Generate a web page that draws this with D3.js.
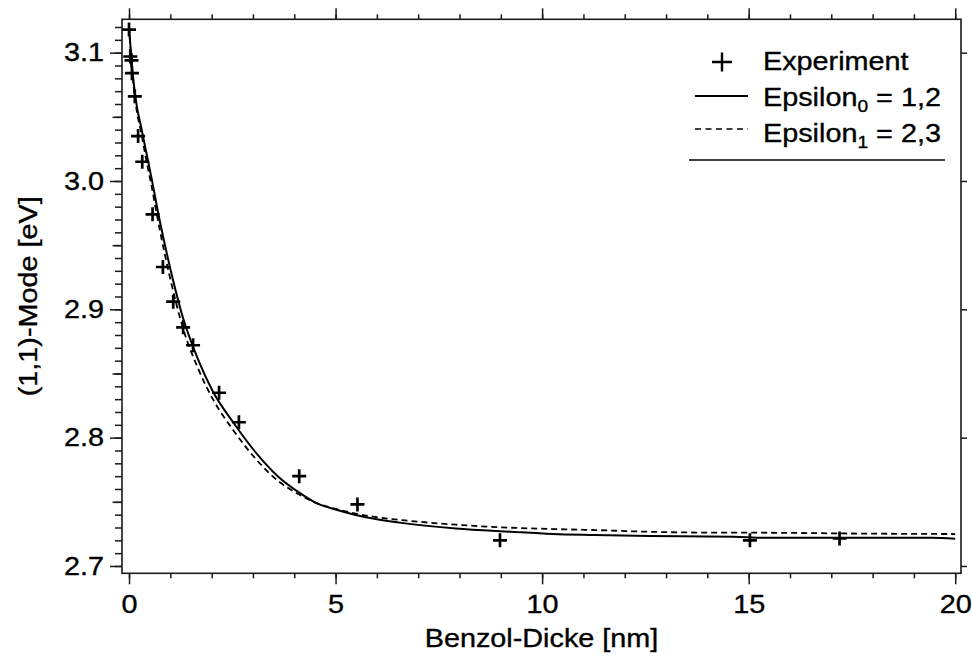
<!DOCTYPE html>
<html>
<head>
<meta charset="utf-8">
<script src="https://cdn.jsdelivr.net/npm/d3@7"></script>
<style>
  html, body { margin: 0; padding: 0; background: #fff; }
  svg { display: block; }
  text { font-family: "Liberation Sans", Arial, sans-serif; fill: #000; stroke: #000; stroke-width: 0.35px; }
  .wide { transform-box: fill-box; transform-origin: center; transform: scaleX(1.13); }
  .wide-end { transform-box: fill-box; transform-origin: right center; transform: scaleX(1.13); }
  .wide-start { transform-box: fill-box; transform-origin: left center; transform: scaleX(1.13); }
</style>
</head>
<body>
<svg id="chart" width="972" height="658"></svg>
<script>
// Measured (1,1)-mode energy versus benzene layer thickness
const expThickness = [0.00, 0.03, 0.06, 0.07, 0.14, 0.22, 0.32, 0.57, 0.82, 1.07, 1.31, 1.55, 2.18, 2.66, 4.12, 5.53, 8.98, 15.03, 17.20];
const expEnergy    = [3.118, 3.097, 3.094, 3.084, 3.066, 3.035, 3.015, 2.974, 2.933, 2.906, 2.886, 2.872, 2.835, 2.812, 2.770, 2.748, 2.720, 2.720, 2.7215];

// Model curve, Epsilon_0 = 1,2
const eps0Thickness = [0, 0.06, 0.19, 0.28, 0.42, 0.54, 0.75, 0.99, 1.31, 1.67, 2.03, 2.52, 3.08, 3.6, 4.13, 4.54, 5.0, 5.46, 6.0, 6.69, 7.91, 9.23, 10.25, 11.27, 12.6, 14.64, 15.36, 19.43, 20.0];
const eps0Energy    = [3.120, 3.094, 3.058, 3.044, 3.022, 3.003, 2.968, 2.933, 2.893, 2.861, 2.836, 2.812, 2.788, 2.770, 2.757, 2.749, 2.744, 2.740, 2.7365, 2.7332, 2.7293, 2.7267, 2.7249, 2.7241, 2.7233, 2.7228, 2.7220, 2.7220, 2.7212];

// Model curve, Epsilon_1 = 2,3
const eps1Thickness = [0, 0.06, 0.19, 0.28, 0.42, 0.54, 0.75, 0.99, 1.31, 1.67, 2.03, 2.52, 3.08, 3.6, 4.13, 4.54, 5.0, 5.46, 6.0, 6.69, 7.91, 9.03, 10.25, 11.27, 12.8, 14.0, 15.5, 17.5, 20.0];
const eps1Energy    = [3.120, 3.092, 3.054, 3.040, 3.016, 2.997, 2.961, 2.925, 2.885, 2.854, 2.830, 2.806, 2.783, 2.7665, 2.7555, 2.749, 2.7445, 2.741, 2.738, 2.7355, 2.7322, 2.7301, 2.7288, 2.7280, 2.7265, 2.7260, 2.7259, 2.7253, 2.7249];

// Tick values
const xMajorTicks = [0, 5, 10, 15, 20];
const xMinorTicks = d3.range(0, 21, 1);
const yMajorTicks = [2.7, 2.8, 2.9, 3.0, 3.1];
const yHalfTicks  = [2.75, 2.85, 2.95, 3.05];
const yMinorTicks = d3.range(270, 313, 1).map(v => v / 100);

const legendLabels = [
  { name: "Experiment" },
  { name: "Epsilon", sub: "0", rest: " = 1,2" },
  { name: "Epsilon", sub: "1", rest: " = 2,3" }
];

const svg = d3.select("#chart");
const frame = { left: 122, right: 961, top: 19.3, bottom: 573.3 };
const fontSize = 25.5;

const x = d3.scaleLinear().domain([-0.17, 20.14]).range([frame.left, frame.right]);
const y = d3.scaleLinear().domain([2.6943, 3.126]).range([frame.bottom, frame.top]);

const axisColor = "#1a1a1a";

function styleAxis(g) {
  g.select(".domain").remove();
  g.selectAll(".tick line").attr("stroke", axisColor).attr("stroke-width", 1.5);
}

// Bottom axis
svg.append("g").attr("transform", `translate(0,${frame.bottom})`)
  .call(d3.axisBottom(x).tickValues(xMinorTicks).tickSize(5).tickFormat(""))
  .call(styleAxis);
const xAxis = svg.append("g").attr("transform", `translate(0,${frame.bottom})`)
  .call(d3.axisBottom(x).tickValues(xMajorTicks).tickSize(11).tickPadding(11).tickFormat(d3.format("d")))
  .call(styleAxis);
xAxis.selectAll("text").attr("font-size", fontSize).attr("class", "wide").style("font-family", "Liberation Sans, Arial, sans-serif");

// Top axis (ticks only)
svg.append("g").attr("transform", `translate(0,${frame.top})`)
  .call(d3.axisTop(x).tickValues(xMinorTicks).tickSize(5).tickFormat(""))
  .call(styleAxis);
svg.append("g").attr("transform", `translate(0,${frame.top})`)
  .call(d3.axisTop(x).tickValues(xMajorTicks).tickSize(11).tickFormat(""))
  .call(styleAxis);

// Left axis
svg.append("g").attr("transform", `translate(${frame.left},0)`)
  .call(d3.axisLeft(y).tickValues(yMinorTicks).tickSize(7).tickFormat(""))
  .call(styleAxis);
svg.append("g").attr("transform", `translate(${frame.left},0)`)
  .call(d3.axisLeft(y).tickValues(yHalfTicks).tickSize(9.5).tickFormat(""))
  .call(styleAxis);
const yAxis = svg.append("g").attr("transform", `translate(${frame.left},0)`)
  .call(d3.axisLeft(y).tickValues(yMajorTicks).tickSize(12).tickPadding(6).tickFormat(d3.format(".1f")))
  .call(styleAxis);
yAxis.selectAll("text").attr("font-size", fontSize).attr("class", "wide-end").style("font-family", "Liberation Sans, Arial, sans-serif");

// Right axis (major ticks)
svg.append("g").attr("transform", `translate(${frame.right},0)`)
  .call(d3.axisRight(y).tickValues(yMajorTicks).tickSize(6).tickFormat(""))
  .call(styleAxis);

// Frame
svg.append("rect")
  .attr("x", frame.left).attr("y", frame.top)
  .attr("width", frame.right - frame.left).attr("height", frame.bottom - frame.top)
  .attr("fill", "none").attr("stroke", axisColor).attr("stroke-width", 1.6);

// Axis titles
svg.append("text")
  .attr("x", (frame.left + frame.right) / 2).attr("y", 647)
  .attr("text-anchor", "middle").attr("font-size", fontSize)
  .attr("class", "wide")
  .text("Benzol-Dicke [nm]");

svg.append("text")
  .attr("transform", `translate(37,${(frame.top + frame.bottom) / 2}) rotate(-90) scale(1.13,1)`)
  .attr("text-anchor", "middle").attr("font-size", fontSize)
  .text("(1,1)-Mode [eV]");

// Curves
svg.append("clipPath").attr("id", "plot-clip")
  .append("rect").attr("x", frame.left).attr("y", frame.top)
  .attr("width", frame.right - frame.left).attr("height", frame.bottom - frame.top);

const line = d3.line().x(d => x(d[0])).y(d => y(d[1])).curve(d3.curveMonotoneX);
const eps0 = eps0Thickness.map((t, i) => [t, eps0Energy[i]]);
const eps1 = eps1Thickness.map((t, i) => [t, eps1Energy[i]]);

const plot = svg.append("g").attr("clip-path", "url(#plot-clip)");
plot.append("path").datum(eps1).attr("d", line)
  .attr("fill", "none").attr("stroke", "#000").attr("stroke-width", 1.8)
  .attr("stroke-dasharray", "6,4");
plot.append("path").datum(eps0).attr("d", line)
  .attr("fill", "none").attr("stroke", "#000").attr("stroke-width", 2);

// Experimental points as "+" markers
const cross = "M-7,0H7M0,-7V7";
plot.selectAll("path.exp").data(expThickness.map((t, i) => [t, expEnergy[i]]))
  .join("path").attr("class", "exp")
  .attr("d", cross)
  .attr("transform", d => `translate(${x(d[0])},${y(d[1])})`)
  .attr("stroke", "#000").attr("stroke-width", 2.7).attr("fill", "none");

// Legend
const legend = svg.append("g");
const rowY = [70, 106, 142];
const textX = 763;

legend.append("path").attr("d", "M-10,0H10M0,-9.5V9.5")
  .attr("transform", `translate(722,${rowY[0] - 8})`)
  .attr("stroke", "#000").attr("stroke-width", 2.4).attr("fill", "none");
legend.append("line").attr("x1", 695).attr("x2", 748).attr("y1", rowY[1] - 10).attr("y2", rowY[1] - 10)
  .attr("stroke", "#000").attr("stroke-width", 1.8);
legend.append("line").attr("x1", 695).attr("x2", 748).attr("y1", rowY[2] - 13).attr("y2", rowY[2] - 13)
  .attr("stroke", "#000").attr("stroke-width", 1.6).attr("stroke-dasharray", "6,4.5");

legendLabels.forEach((lab, i) => {
  const t = legend.append("text").attr("x", textX).attr("y", rowY[i])
    .attr("font-size", fontSize).attr("class", "wide-start");
  t.append("tspan").text(lab.name);
  if (lab.sub) {
    t.append("tspan").attr("font-size", 17).attr("dy", 6).text(lab.sub);
    t.append("tspan").attr("dy", -6).text(lab.rest);
  }
});

legend.append("line").attr("x1", 689).attr("x2", 945).attr("y1", 160).attr("y2", 160)
  .attr("stroke", "#000").attr("stroke-width", 1.6);
</script>
</body>
</html>
